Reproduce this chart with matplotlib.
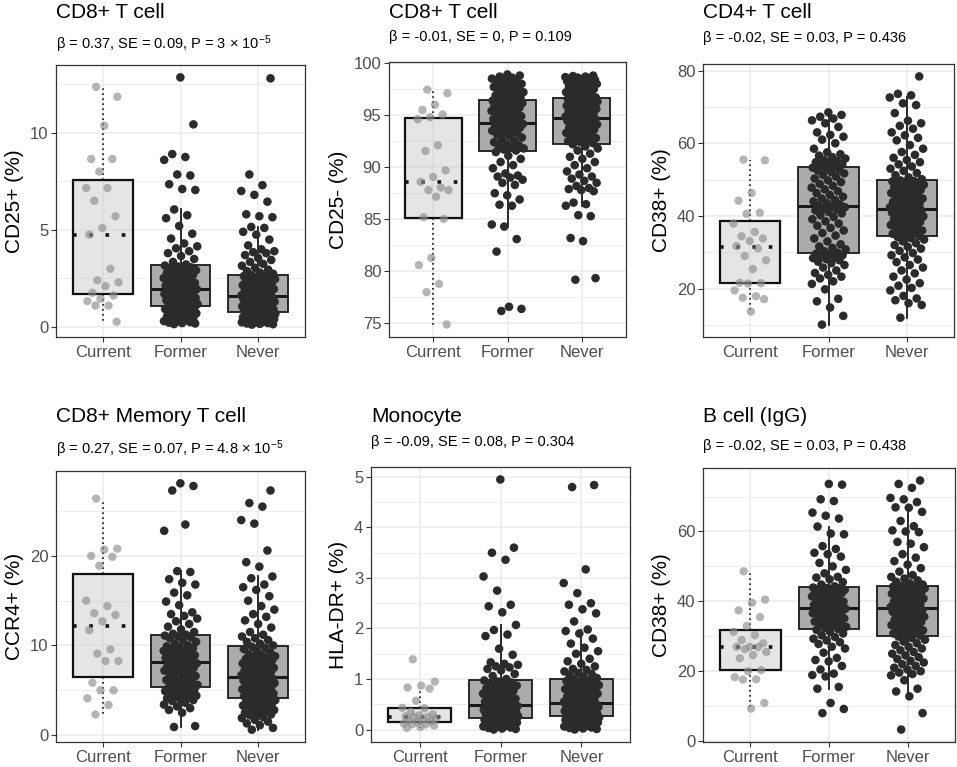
import numpy as np
import matplotlib
matplotlib.use("Agg")
import matplotlib.pyplot as plt
from matplotlib.ticker import MultipleLocator

plt.rcParams['font.family'] = ['Liberation Sans', 'DejaVu Sans']
plt.rcParams['mathtext.fontset'] = 'custom'
plt.rcParams['mathtext.rm'] = 'Liberation Sans'
plt.rcParams['mathtext.it'] = 'Liberation Sans:italic'

groups = ["Current", "Former", "Never"]

titles = ["CD8+ T cell", "CD8+ T cell", "CD4+ T cell",
          "CD8+ Memory T cell", "Monocyte", "B cell (IgG)"]
subtitles = [r"β = 0.37, SE = 0.09, P = 3 × 10$^{-5}$",
             "β = -0.01, SE = 0, P = 0.109",
             "β = -0.02, SE = 0.03, P = 0.436",
             r"β = 0.27, SE = 0.07, P = 4.8 × 10$^{-5}$",
             "β = -0.09, SE = 0.08, P = 0.304",
             "β = -0.02, SE = 0.03, P = 0.438"]
ylabels = ["CD25+ (%)", "CD25- (%)", "CD38+ (%)", "CCR4+ (%)", "HLA-DR+ (%)", "CD38+ (%)"]
major_steps = [5, 5, 20, 10, 1, 20]

# ---------- Panel 1: CD8+ T cell, CD25+ ----------
p1_current = [12.36, 11.85, 10.36, 8.65, 8.65, 8.0, 7.15, 7.15, 6.5, 5.7, 5.1, 4.75,
              3.0, 2.4, 2.3, 2.1, 1.76, 1.62, 1.45, 1.33, 1.1, 1.1, 0.27]
p1_former = [0.15, 0.18, 0.2, 0.22, 0.25, 0.28, 0.3, 0.35, 0.4, 0.45, 0.5, 0.55, 0.6, 0.65,
             0.7, 0.75, 0.8, 0.85, 0.88, 0.92, 0.95, 0.98, 1.0, 1.03, 1.05,
             1.1, 1.14, 1.18, 1.22, 1.26, 1.3, 1.34, 1.38, 1.42, 1.46, 1.5, 1.54, 1.58, 1.62,
             1.66, 1.7, 1.74, 1.78, 1.82, 1.85, 1.88, 1.91, 1.93, 1.95, 1.97,
             1.99, 2.03, 2.08, 2.12, 2.17, 2.22, 2.27, 2.32, 2.37, 2.42, 2.47, 2.52, 2.57, 2.62,
             2.67, 2.72, 2.77, 2.82, 2.87, 2.92, 2.97, 3.02, 3.07, 3.11, 3.16,
             3.22, 3.35, 3.5, 3.65, 3.8, 3.9, 4.05, 4.15, 4.3, 4.55, 4.8, 5.2, 5.6, 5.75, 6.05,
             7.05, 7.1, 7.35, 7.8, 7.85, 8.6, 8.75, 8.9, 10.43, 12.85]
p1_never = [0.12, 0.14, 0.16, 0.18, 0.2, 0.22, 0.24, 0.26, 0.28, 0.3, 0.32, 0.34, 0.36, 0.38,
            0.4, 0.42, 0.44, 0.46, 0.48, 0.5, 0.52, 0.55, 0.58, 0.6, 0.62, 0.64, 0.66, 0.68, 0.7, 0.73,
            0.76, 0.79, 0.82, 0.85, 0.88, 0.91, 0.94, 0.97, 1.0, 1.03, 1.06, 1.09, 1.12, 1.15, 1.18,
            1.21, 1.24, 1.27, 1.3, 1.33, 1.36, 1.39, 1.41, 1.43, 1.45, 1.47, 1.49, 1.51, 1.53, 1.55,
            1.59, 1.63, 1.67, 1.71, 1.75, 1.79, 1.83, 1.87, 1.91, 1.95, 1.99, 2.03, 2.07, 2.11, 2.15,
            2.19, 2.23, 2.27, 2.31, 2.35, 2.39, 2.43, 2.47, 2.5, 2.53, 2.56, 2.59, 2.62, 2.64, 2.66,
            2.74, 2.8, 2.88, 2.95, 3.05, 3.15, 3.25, 3.35, 3.45, 3.55, 3.7, 3.8, 3.85, 3.9, 4.0,
            4.2, 4.5, 4.75, 4.9, 5.1, 5.15, 5.65, 5.7, 5.8, 6.45, 6.8, 7.0, 7.3, 7.85, 12.8]

# ---------- Panel 2: CD8+ T cell, CD25- ----------
p2_current = [97.45, 97.1, 96.0, 95.5, 95.06, 94.8, 94.6, 92.1, 91.56, 89.7, 89.07, 88.6,
              88.05, 87.8, 87.8, 87.17, 85.2, 85.03, 81.3, 80.6, 78.8, 78.0, 74.9]
p2_former = [76.2, 76.4, 76.6, 81.9, 83.1, 84.3, 84.5, 86.3, 86.4, 86.9, 87.3, 87.5, 88.3,
             88.5, 88.8, 89.0, 89.1, 89.2, 89.4, 89.9, 90.2, 90.5, 90.8, 91.1, 91.45,
             91.6, 91.7, 91.8, 91.9, 92.0, 92.1, 92.25, 92.4, 92.55, 92.7, 92.85, 93.0, 93.15,
             93.3, 93.4, 93.5, 93.6, 93.7, 93.8, 93.9, 94.0, 94.05, 94.1, 94.15, 94.2,
             94.3, 94.4, 94.5, 94.6, 94.7, 94.8, 94.9, 95.0, 95.1, 95.2, 95.3, 95.4, 95.5,
             95.6, 95.7, 95.8, 95.9, 96.0, 96.1, 96.15, 96.2, 96.25, 96.3, 96.35, 96.4,
             96.5, 96.6, 96.7, 96.8, 96.9, 97.0, 97.1, 97.2, 97.3, 97.4, 97.5, 97.6, 97.7,
             97.8, 97.9, 98.0, 98.1, 98.2, 98.3, 98.4, 98.5, 98.6, 98.7, 98.8, 98.9]
p2_never = [79.2, 79.35, 82.9, 83.2, 85.3, 85.4, 86.3, 86.45, 86.6, 87.7, 87.8, 87.9, 88.0,
            88.2, 88.5, 88.7, 88.9, 89.1, 89.3, 89.6, 89.9, 90.2, 90.5, 90.8, 91.0, 91.3,
            91.6, 91.8, 92.0, 92.2,
            92.3, 92.4, 92.5, 92.6, 92.7, 92.8, 92.9, 93.0, 93.1, 93.2, 93.3, 93.4, 93.5, 93.6,
            93.7, 93.8, 93.9, 94.0, 94.1, 94.2, 94.3, 94.35, 94.4, 94.45, 94.5, 94.55, 94.6,
            94.65, 94.7, 94.72,
            94.78, 94.85, 94.9, 95.0, 95.1, 95.2, 95.3, 95.4, 95.5, 95.6, 95.7, 95.75, 95.8,
            95.85, 95.9, 95.95, 96.0, 96.05, 96.1, 96.15, 96.2, 96.25, 96.3, 96.35, 96.4,
            96.45, 96.5, 96.55, 96.6, 96.63,
            96.7, 96.8, 96.9, 97.0, 97.1, 97.2, 97.3, 97.4, 97.5, 97.6, 97.7, 97.8, 97.9, 98.0,
            98.05, 98.1, 98.15, 98.2, 98.25, 98.3, 98.35, 98.4, 98.45, 98.5, 98.55, 98.6,
            98.65, 98.7, 98.75, 98.8]

# ---------- Panel 3: CD4+ T cell, CD38+ ----------
p3_current = [55.5, 55.3, 46.3, 44.2, 40.9, 40.6, 37.9, 35.6, 34.4, 33.8, 33.1, 31.7, 31.1,
              29.0, 27.8, 25.4, 21.6, 21.5, 21.4, 19.5, 17.9, 17.5, 17.1, 13.7]
p3_former = [10.1, 12.5, 14.8, 16.5, 17.2, 19.8, 21.3, 22.0, 22.8, 23.3, 23.8, 24.3, 25.0,
             25.8, 26.5, 27.0, 27.4, 27.8, 28.1, 28.4, 28.7, 29.0, 29.2, 29.4, 29.6,
             29.9, 30.3, 30.8, 31.2, 31.6, 32.2, 33.0, 33.8, 34.6, 35.3, 36.0, 36.7, 37.3,
             37.9, 38.5, 39.1, 39.7, 40.2, 40.7, 41.1, 41.5, 41.8, 42.1, 42.4, 42.6,
             42.8, 43.2, 43.6, 44.0, 44.4, 44.8, 45.3, 45.8, 46.3, 46.8, 47.3, 47.8, 48.3,
             48.8, 49.3, 49.8, 50.3, 50.8, 51.3, 51.7, 52.1, 52.5, 52.8, 53.1, 53.3,
             53.6, 53.9, 54.2, 54.5, 54.8, 55.1, 55.4, 55.8, 56.2, 56.6, 57.0, 57.5, 58.5,
             60.0, 61.0, 61.8, 62.3, 63.0, 64.5, 65.5, 66.3, 66.8, 67.3, 67.8, 68.5]
p3_never = [12.0, 15.5, 16.0, 16.8, 17.3, 18.0, 19.5, 20.2, 20.8, 21.5, 22.5, 23.3, 24.2,
            25.0, 25.8, 26.5, 27.3, 28.0, 28.6, 29.2, 29.8, 30.4, 31.0, 31.5, 32.0, 32.5,
            33.0, 33.5, 33.9, 34.2,
            34.5, 34.8, 35.1, 35.4, 35.7, 36.0, 36.3, 36.6, 36.9, 37.2, 37.5, 37.8, 38.1,
            38.4, 38.7, 39.0, 39.3, 39.6, 39.9, 40.1, 40.3, 40.5, 40.7, 40.9, 41.1, 41.3,
            41.5, 41.7, 41.8, 41.9,
            42.1, 42.4, 42.7, 43.0, 43.3, 43.6, 43.9, 44.2, 44.5, 44.8, 45.1, 45.4, 45.7,
            46.0, 46.3, 46.6, 46.9, 47.2, 47.5, 47.8, 48.1, 48.4, 48.6, 48.8, 49.0, 49.2,
            49.4, 49.5, 49.6, 49.75,
            50.1, 50.6, 51.2, 51.8, 52.4, 53.0, 53.6, 54.2, 54.8, 55.4, 56.0, 56.8, 57.6,
            58.5, 59.5, 60.8, 61.5, 62.2, 63.0, 64.0, 64.8, 65.5, 66.2, 68.3, 70.5, 71.0,
            72.6, 73.2, 73.6, 78.4]

# ---------- Panel 4: CD8+ Memory T cell, CCR4+ ----------
p4_current = [26.4, 20.8, 20.7, 20.0, 19.9, 18.9, 15.0, 14.4, 13.6, 13.4, 12.7, 11.7, 9.57,
              9.1, 8.27, 8.27, 5.85, 5.0, 5.0, 4.1, 3.35, 2.3]
p4_former = [0.9, 1.0, 2.5, 2.8, 3.0, 3.2, 3.4, 3.6, 3.8, 3.9, 4.0, 4.1, 4.2, 4.3, 4.4, 4.5,
             4.6, 4.7, 4.8, 4.9, 5.0, 5.05, 5.1, 5.15, 5.25,
             5.35, 5.5, 5.6, 5.7, 5.8, 5.9, 6.0, 6.15, 6.3, 6.45, 6.6, 6.75, 6.9, 7.0, 7.1,
             7.2, 7.3, 7.4, 7.5, 7.6, 7.7, 7.8, 7.9, 8.0, 8.15,
             8.25, 8.4, 8.5, 8.6, 8.7, 8.8, 8.9, 9.0, 9.1, 9.2, 9.3, 9.4, 9.5, 9.6, 9.7, 9.8,
             9.9, 10.0, 10.2, 10.4, 10.6, 10.8, 10.9, 11.0, 11.1,
             11.2, 11.3, 11.5, 11.8, 12.1, 12.4, 12.7, 13.0, 13.3, 13.5, 13.7, 14.5, 14.9,
             15.6, 15.9, 16.8, 17.0, 17.4, 18.2, 18.3, 22.8, 23.5, 27.3, 27.8, 28.1]
p4_never = [0.6, 0.8, 1.1, 1.3, 1.5, 1.7, 1.9, 2.0, 2.2, 2.3, 2.4, 2.5, 2.6, 2.7, 2.8, 2.9,
            3.0, 3.1, 3.2, 3.3, 3.4, 3.5, 3.6, 3.65, 3.7, 3.8, 3.85, 3.9, 4.0, 4.05,
            4.15, 4.25, 4.35, 4.45, 4.55, 4.65, 4.75, 4.85, 4.95, 5.0, 5.1, 5.2, 5.3, 5.4,
            5.5, 5.6, 5.7, 5.75, 5.8, 5.85, 5.9, 6.0, 6.05, 6.1, 6.2, 6.25, 6.3, 6.35, 6.4, 6.45,
            6.55, 6.7, 6.8, 6.9, 7.0, 7.1, 7.2, 7.3, 7.4, 7.5, 7.6, 7.7, 7.8, 7.9, 8.0, 8.1,
            8.2, 8.3, 8.4, 8.5, 8.6, 8.7, 8.8, 8.9, 9.0, 9.2, 9.4, 9.6, 9.75, 9.85,
            10.0, 10.2, 10.4, 10.6, 10.8, 11.0, 11.2, 11.5, 12.0, 12.4, 12.8, 13.2, 13.5,
            14.0, 14.4, 15.0, 15.5, 16.2, 16.5, 16.8, 17.5, 17.7, 18.8, 19.3, 20.6, 23.6,
            24.0, 25.5, 25.9, 27.3]

# ---------- Panel 5: Monocyte, HLA-DR+ ----------
p5_current = [1.39, 0.95, 0.87, 0.83, 0.81, 0.57, 0.43, 0.42, 0.35, 0.3, 0.28, 0.26, 0.25,
              0.25, 0.22, 0.2, 0.18, 0.16, 0.15, 0.12, 0.1, 0.1, 0.08, 0.05, 0.03]
p5_former = [0.0, 0.01, 0.02, 0.03, 0.04, 0.05, 0.06, 0.07, 0.08, 0.09, 0.1, 0.11, 0.12,
             0.13, 0.14, 0.15, 0.16, 0.17, 0.18, 0.19, 0.2, 0.205, 0.21, 0.215, 0.22,
             0.24, 0.25, 0.26, 0.27, 0.28, 0.29, 0.3, 0.31, 0.32, 0.33, 0.34, 0.35, 0.36,
             0.37, 0.38, 0.39, 0.4, 0.41, 0.42, 0.43, 0.44, 0.45, 0.46, 0.465, 0.47,
             0.49, 0.51, 0.53, 0.55, 0.57, 0.59, 0.61, 0.63, 0.65, 0.67, 0.69, 0.71, 0.73,
             0.75, 0.77, 0.79, 0.81, 0.83, 0.85, 0.87, 0.89, 0.91, 0.93, 0.95, 0.97,
             1.0, 1.06, 1.1, 1.17, 1.2, 1.23, 1.25, 1.28, 1.3, 1.33, 1.48, 1.6, 1.85, 1.88,
             1.97, 2.07, 2.32, 2.44, 2.47, 2.75, 3.03, 3.36, 3.5, 3.6, 4.95]
p5_never = [0.0, 0.01, 0.02, 0.03, 0.04, 0.05, 0.06, 0.07, 0.08, 0.09, 0.1, 0.11, 0.12, 0.13,
            0.14, 0.15, 0.16, 0.17, 0.18, 0.19, 0.2, 0.21, 0.215, 0.22, 0.225, 0.23, 0.235,
            0.24, 0.245, 0.25,
            0.265, 0.275, 0.285, 0.295, 0.305, 0.315, 0.325, 0.335, 0.345, 0.355, 0.365,
            0.375, 0.385, 0.395, 0.405, 0.415, 0.425, 0.435, 0.445, 0.455, 0.465, 0.47,
            0.475, 0.48, 0.485, 0.49, 0.495, 0.5, 0.505, 0.51,
            0.53, 0.55, 0.57, 0.59, 0.61, 0.63, 0.65, 0.67, 0.69, 0.71, 0.73, 0.75, 0.77,
            0.79, 0.8, 0.81, 0.82, 0.83, 0.84, 0.85, 0.86, 0.87, 0.88, 0.9, 0.92, 0.93, 0.94,
            0.96, 0.97, 0.99,
            1.02, 1.05, 1.08, 1.1, 1.12, 1.15, 1.18, 1.2, 1.25, 1.3, 1.35, 1.4, 1.5, 1.55,
            1.62, 1.7, 1.8, 1.9, 1.95, 1.98, 2.14, 2.3, 2.38, 2.47, 2.5, 2.7, 2.9, 3.17,
            4.8, 4.84]

# ---------- Panel 6: B cell (IgG), CD38+ ----------
p6_current = [48.6, 40.5, 39.6, 37.4, 35.5, 33.0, 31.3, 30.3, 28.9, 28.0, 27.0, 27.0, 26.9,
              26.3, 25.5, 24.6, 23.7, 20.3, 20.0, 18.3, 17.7, 17.6, 10.9, 9.3]
p6_former = [8.0, 9.2, 10.9, 15.0, 15.5, 18.5, 18.9, 19.3, 20.5, 21.5, 22.8, 23.2, 23.8,
             25.3, 26.5, 27.0, 27.8, 28.3, 28.8, 29.3, 29.8, 30.3, 30.8, 31.3, 31.8,
             32.1, 32.4, 32.7, 33.0, 33.3, 33.6, 33.9, 34.2, 34.5, 34.8, 35.1, 35.4, 35.7,
             36.0, 36.3, 36.6, 36.9, 37.1, 37.3, 37.5, 37.6, 37.7, 37.8, 37.9, 37.95,
             38.1, 38.4, 38.7, 39.0, 39.3, 39.6, 39.9, 40.2, 40.5, 40.8, 41.1, 41.4, 41.7,
             42.0, 42.3, 42.5, 42.7, 42.9, 43.1, 43.3, 43.5, 43.6, 43.7, 43.8, 43.95,
             44.3, 44.8, 45.5, 46.3, 46.8, 47.0, 48.0, 49.0, 50.0, 51.0, 52.8, 53.5, 53.9,
             55.0, 55.8, 59.2, 59.4, 61.4, 63.7, 64.5, 65.4, 68.7, 69.2, 73.4, 73.6]
p6_never = [3.3, 8.0, 12.8, 14.2, 15.0, 17.4, 18.8, 19.2, 19.6, 20.0, 20.5, 21.0, 21.5,
            22.0, 22.5, 23.0, 23.5, 24.0, 24.5, 25.0, 25.5, 26.0, 26.5, 27.0, 27.5, 28.0,
            28.5, 29.0, 29.5, 29.9,
            30.2, 30.5, 30.8, 31.1, 31.4, 31.7, 32.0, 32.3, 32.6, 32.9, 33.2, 33.5, 33.8,
            34.1, 34.4, 34.7, 35.0, 35.3, 35.6, 35.9, 36.2, 36.5, 36.8, 37.0, 37.2, 37.4,
            37.5, 37.6, 37.75, 37.9,
            38.1, 38.4, 38.7, 39.0, 39.3, 39.6, 39.9, 40.2, 40.5, 40.8, 41.1, 41.4, 41.7,
            42.0, 42.2, 42.4, 42.6, 42.8, 43.0, 43.2, 43.4, 43.6, 43.7, 43.8, 43.9, 44.0,
            44.1, 44.2, 44.3, 44.4,
            44.8, 45.2, 45.6, 46.0, 46.5, 47.0, 47.5, 48.5, 49.5, 50.5, 51.5, 52.5, 53.5,
            55.5, 56.5, 57.0, 59.8, 60.0, 60.3, 61.5, 63.0, 65.6, 66.8, 66.9, 68.4, 69.2,
            69.6, 72.5, 73.6, 74.6]

panel_data = [
    (p1_current, p1_former, p1_never),
    (p2_current, p2_former, p2_never),
    (p3_current, p3_former, p3_never),
    (p4_current, p4_former, p4_never),
    (p5_current, p5_former, p5_never),
    (p6_current, p6_former, p6_never),
]

# ---------- layout (pixels in a 957x767 figure) ----------
W, H = 957, 767
panel_px = [  # left, right, top, bottom
    (56, 305, 65, 337), (389, 626, 62, 337), (703, 954, 64, 337),
    (56, 305, 471, 742), (371, 630, 467, 742), (703, 955, 468, 742),
]
title_y = [13, 13, 13, 417, 417, 417]
sub_y = [44, 37, 38, 449, 442, 446]

fig = plt.figure(figsize=(W / 100, H / 100), dpi=100)
fig.patch.set_facecolor("white")

def jitter(n, width=0.22):
    # deterministic low-discrepancy horizontal spread
    k = np.arange(n)
    return ((k * 0.6180339887 + 0.31) % 1.0 - 0.5) * 2 * width

for i in range(6):
    l, r, t, b = panel_px[i]
    ax = fig.add_axes([l / W, 1 - b / H, (r - l) / W, (b - t) / H])
    data = panel_data[i]
    allv = np.concatenate([np.asarray(d, float) for d in data])
    lo, hi = allv.min(), allv.max()
    pad = 0.05 * (hi - lo)
    ax.set_ylim(lo - pad, hi + pad)
    ax.set_xlim(0.4, 3.6)

    step = major_steps[i]
    ax.yaxis.set_major_locator(MultipleLocator(step))
    ax.yaxis.set_minor_locator(MultipleLocator(step / 2))
    ax.grid(which="major", color="#ebebeb", linewidth=1.1, zorder=0)
    ax.grid(which="minor", axis="y", color="#ebebeb", linewidth=0.6, zorder=0)
    ax.set_axisbelow(True)

    # Current box (dashed, light)
    ax.boxplot([data[0]], positions=[1], widths=0.77, patch_artist=True,
               showfliers=False, showcaps=False, whis=1.5, zorder=2,
               boxprops=dict(facecolor=(0.8, 0.8, 0.8, 0.5), edgecolor="#111111",
                             linewidth=1.6, linestyle=(0, (1.8, 1.8))),
               medianprops=dict(color="#111111", linewidth=2.6, linestyle=(0, (1.0, 3.5))),
               whiskerprops=dict(color="#111111", linewidth=1.2, linestyle=(0, (1.0, 2.0))))
    # Former / Never boxes
    ax.boxplot([data[1], data[2]], positions=[2, 3], widths=0.77, patch_artist=True,
               showfliers=False, showcaps=False, whis=1.5, zorder=2,
               boxprops=dict(facecolor="#ababab", edgecolor="#1a1a1a", linewidth=1.3),
               medianprops=dict(color="#1a1a1a", linewidth=2.2),
               whiskerprops=dict(color="#1a1a1a", linewidth=1.3))

    # jittered points
    for g, vals in enumerate(data):
        vals = np.asarray(vals, float)
        xs = (g + 1) + jitter(len(vals))
        if g == 0:
            ax.scatter(xs, vals, s=36, color="#8c8c8c", alpha=0.65, edgecolors="none", zorder=3)
        else:
            ax.scatter(xs, vals, s=38, color="#2b2b2b", edgecolors="none", zorder=3)

    ax.set_xticks([1, 2, 3])
    ax.set_xticklabels(groups)
    ax.tick_params(axis="both", which="major", length=3.5, width=0.8, color="#333333",
                   labelsize=12, labelcolor="#4d4d4d", pad=2)
    ax.tick_params(axis="y", which="minor", length=0)
    for sp in ax.spines.values():
        sp.set_color("#333333")
        sp.set_linewidth(0.9)
    ax.set_ylabel(ylabels[i], fontsize=15, color="black", labelpad=4)

    fig.text(l / W, 1 - title_y[i] / H, titles[i], fontsize=15, ha="left", va="center",
             color="black")
    fig.text(l / W, 1 - sub_y[i] / H, subtitles[i], fontsize=10.5, ha="left", va="center",
             color="black")

fig.savefig("out.png", dpi=100, facecolor="white")
